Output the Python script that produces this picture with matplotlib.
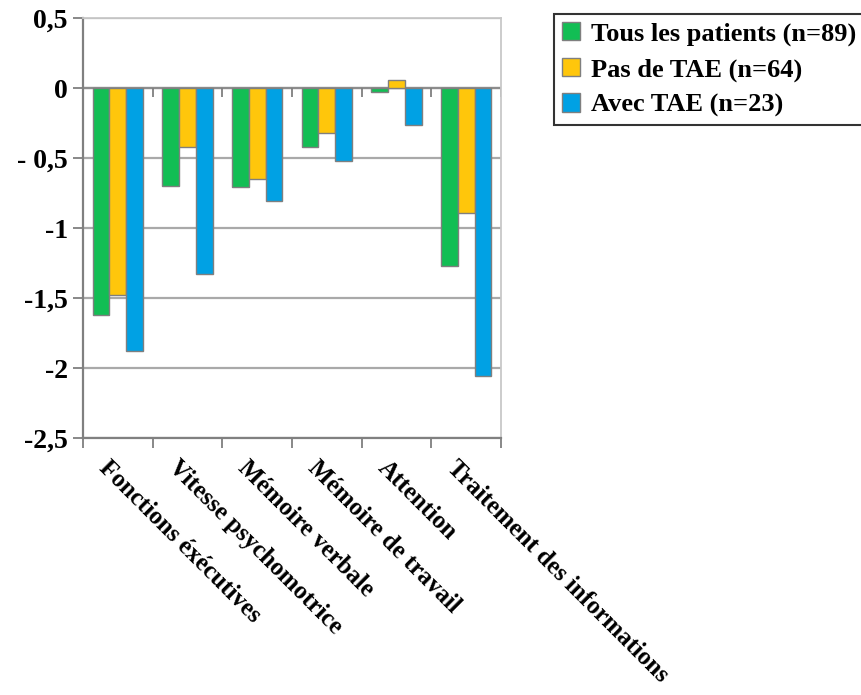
import matplotlib
matplotlib.use("Agg")
import matplotlib.pyplot as plt
import numpy as np

plt.rcParams["font.family"] = ["Liberation Serif", "DejaVu Serif"]
plt.rcParams["font.weight"] = "bold"

domaines = ["Fonctions éxécutives", "Vitesse psychomotrice", "Mémoire verbale",
            "Mémoire de travail", "Attention", "Traitement des informations"]
tous = [-1.62, -0.70, -0.71, -0.42, -0.03, -1.27]
sans_tae = [-1.48, -0.42, -0.65, -0.32, 0.06, -0.89]
avec_tae = [-1.88, -1.33, -0.81, -0.52, -0.265, -2.06]
series_labels = ["Tous les patients (n=89)", "Pas de TAE (n=64)", "Avec TAE (n=23)"]
colors = ["#12be54", "#ffc60b", "#00a1e4"]
yticks = [0.5, 0, -0.5, -1, -1.5, -2, -2.5]
ytick_labels = ["0,5", "0", "- 0,5", "-1", "-1,5", "-2", "-2,5"]

fig = plt.figure(figsize=(8.61, 6.95), dpi=100)
ax = fig.add_axes([83 / 861, 1 - 438 / 695, 418 / 861, 420 / 695])

x = np.arange(len(domaines))
w = 0.24
bars = []
for i, vals in enumerate([tous, sans_tae, avec_tae]):
    b = ax.bar(x + (i - 1) * w, vals, w, color=colors[i], edgecolor="#7f7f7f",
               linewidth=1.0, zorder=3, label=series_labels[i])
    bars.append(b)

ax.set_xlim(-0.5, len(domaines) - 0.5)
ax.set_ylim(-2.5, 0.5)
ax.set_yticks(yticks)
ax.set_yticklabels(ytick_labels, fontsize=20, fontweight="bold")
ax.yaxis.grid(True, color="#a9a9a9", linewidth=1.6, zorder=0)
ax.set_axisbelow(True)

# category boundaries: ticks on the bottom spine and on the zero line
bounds = np.arange(len(domaines) + 1) - 0.5
ax.set_xticks(bounds)
ax.set_xticklabels([])
ax.tick_params(axis="x", length=7, width=1.3, color="#7f7f7f", direction="out")
ax.tick_params(axis="y", length=7, width=1.3, color="#7f7f7f", pad=4)
ax.axhline(0, color="#8c8c8c", linewidth=1.6, zorder=2)
ax.vlines(bounds[1:], -0.065, 0, color="#7f7f7f", linewidth=1.3, zorder=2)

for side in ["left", "bottom"]:
    ax.spines[side].set_color("#808080")
    ax.spines[side].set_linewidth(1.6)
for side in ["top", "right"]:
    ax.spines[side].set_color("#c8c8c8")
    ax.spines[side].set_linewidth(1.3)

for xi, label in zip(x, domaines):
    ax.text(xi - 0.1, -2.63, label, rotation=-45, rotation_mode="anchor",
            ha="left", va="top", fontsize=18, fontweight="bold")

leg = fig.legend(handles=bars, labels=series_labels, loc="upper left",
                 bbox_to_anchor=(554 / 861, 1 - 14 / 695), frameon=True,
                 fancybox=False, edgecolor="black", fontsize=19,
                 handlelength=0.7, handleheight=0.7, handletextpad=0.4,
                 labelspacing=0.45, borderpad=0.3, borderaxespad=0)
leg.get_frame().set_linewidth(1.5)
for t in leg.get_texts():
    t.set_fontweight("bold")

fig.savefig("out.png", dpi=100)
